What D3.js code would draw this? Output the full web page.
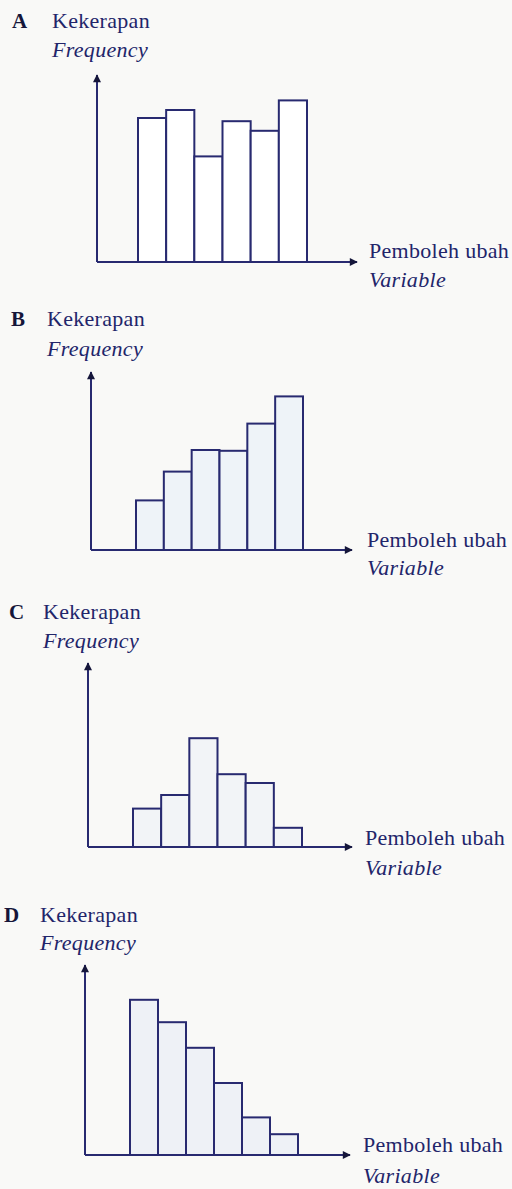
<!DOCTYPE html>
<html>
<head>
<meta charset="utf-8">
<script src="https://cdnjs.cloudflare.com/ajax/libs/d3/7.8.5/d3.min.js"></script>
<style>
  body { margin: 0; background: #f9f9f7; }
  .chart svg { display: block; }
  .panel-letter { font-family: "Liberation Serif", serif; font-weight: bold; font-size: 21px; fill: #15163a; }
  .axis-text { font-family: "Liberation Serif", serif; font-size: 22px; letter-spacing: 0.3px; fill: #22256a; }
  .axis-text.en { font-style: italic; }
</style>
</head>
<body>
<div class="chart"></div>
<script>
// Step 0: Data for the four histograms
//= ================================
var categories = ["1", "2", "3", "4", "5", "6"];

var valuesA = [9.0, 9.5, 6.6, 8.8, 8.2, 10.1];
var valuesB = [3.1, 4.9, 6.25, 6.2, 7.9, 9.6];
var valuesC = [2.4, 3.25, 6.8, 4.55, 4.0, 1.2];
var valuesD = [9.7, 8.3, 6.7, 4.5, 2.35, 1.3];

var panelLetters = ["A", "B", "C", "D"];
var yLabelMs = "Kekerapan";
var yLabelEn = "Frequency";
var xLabelMs = "Pemboleh ubah";
var xLabelEn = "Variable";

// Step 1: Layout of each panel (pixel positions only)
//= ================================
var svgWidth = 512;
var svgHeight = 1189;

var panels = [
  { values: valuesA, fill: "#ffffff", axisX: 97, top: 75, base: 262, tip: 357, barL: 138, barR: 307,
    letterX: 12, labelX: 52, yLab1: 28, yLab2: 57, xLabX: 369, xLab1: 258, xLab2: 287 },
  { values: valuesB, fill: "#eef3f8", axisX: 91, top: 372, base: 550, tip: 352, barL: 136, barR: 303,
    letterX: 11, labelX: 47, yLab1: 326, yLab2: 356, xLabX: 367, xLab1: 547, xLab2: 575 },
  { values: valuesC, fill: "#f2f4f7", axisX: 88, top: 663, base: 847, tip: 352, barL: 133, barR: 302,
    letterX: 9, labelX: 43, yLab1: 619, yLab2: 648, xLabX: 365, xLab1: 845, xLab2: 875 },
  { values: valuesD, fill: "#eef1f6", axisX: 85, top: 965, base: 1155, tip: 350, barL: 130, barR: 298,
    letterX: 4, labelX: 40, yLab1: 922, yLab2: 950, xLabX: 363, xLab1: 1152, xLab2: 1183 }
];

var lineColor = "#282a70";

var svg = d3
  .select(".chart")
  .append("svg")
  .attr("width", svgWidth)
  .attr("height", svgHeight);

svg.append("rect")
  .attr("width", svgWidth)
  .attr("height", svgHeight)
  .attr("fill", "#f9f9f7");

// Arrow head marker for both axes
svg.append("defs")
  .append("marker")
  .attr("id", "arrow")
  .attr("viewBox", "0 0 10 10")
  .attr("refX", 9)
  .attr("refY", 5)
  .attr("markerWidth", 10)
  .attr("markerHeight", 8)
  .attr("markerUnits", "userSpaceOnUse")
  .attr("orient", "auto")
  .append("path")
  .attr("d", "M0,0 L10,5 L0,10 Z")
  .attr("fill", "#15163a");

// Step 2: Draw each panel
//= ================================
panels.forEach(function(p, i) {
  var g = svg.append("g");

  // Scales: bars touch each other, 1 unit of frequency = 16px
  var xBandScale = d3.scaleBand()
    .domain(categories)
    .range([p.barL, p.barR])
    .paddingInner(0)
    .paddingOuter(0);

  var yLinearScale = d3.scaleLinear()
    .domain([0, 10])
    .range([p.base, p.base - 160]);

  // Bars
  g.selectAll("rect.bar")
    .data(p.values)
    .enter()
    .append("rect")
    .attr("class", "bar")
    .attr("x", function(d, j) { return xBandScale(categories[j]); })
    .attr("y", function(d) { return yLinearScale(d); })
    .attr("width", xBandScale.bandwidth())
    .attr("height", function(d) { return yLinearScale(0) - yLinearScale(d); })
    .attr("fill", p.fill)
    .attr("stroke", lineColor)
    .attr("stroke-width", 2);

  // Y axis with arrow
  g.append("line")
    .attr("x1", p.axisX)
    .attr("y1", p.base)
    .attr("x2", p.axisX)
    .attr("y2", p.top)
    .attr("stroke", lineColor)
    .attr("stroke-width", 2)
    .attr("marker-end", "url(#arrow)");

  // X axis with arrow
  g.append("line")
    .attr("x1", p.axisX)
    .attr("y1", p.base)
    .attr("x2", p.tip)
    .attr("y2", p.base)
    .attr("stroke", lineColor)
    .attr("stroke-width", 2)
    .attr("marker-end", "url(#arrow)");

  // Panel letter
  g.append("text")
    .attr("class", "panel-letter")
    .attr("x", p.letterX)
    .attr("y", p.yLab1)
    .text(panelLetters[i]);

  // Y axis labels
  g.append("text")
    .attr("class", "axis-text")
    .attr("x", p.labelX)
    .attr("y", p.yLab1)
    .text(yLabelMs);

  g.append("text")
    .attr("class", "axis-text en")
    .attr("x", p.labelX)
    .attr("y", p.yLab2)
    .text(yLabelEn);

  // X axis labels
  g.append("text")
    .attr("class", "axis-text")
    .attr("x", p.xLabX)
    .attr("y", p.xLab1)
    .text(xLabelMs);

  g.append("text")
    .attr("class", "axis-text en")
    .attr("x", p.xLabX)
    .attr("y", p.xLab2)
    .text(xLabelEn);
});
</script>
</body>
</html>
